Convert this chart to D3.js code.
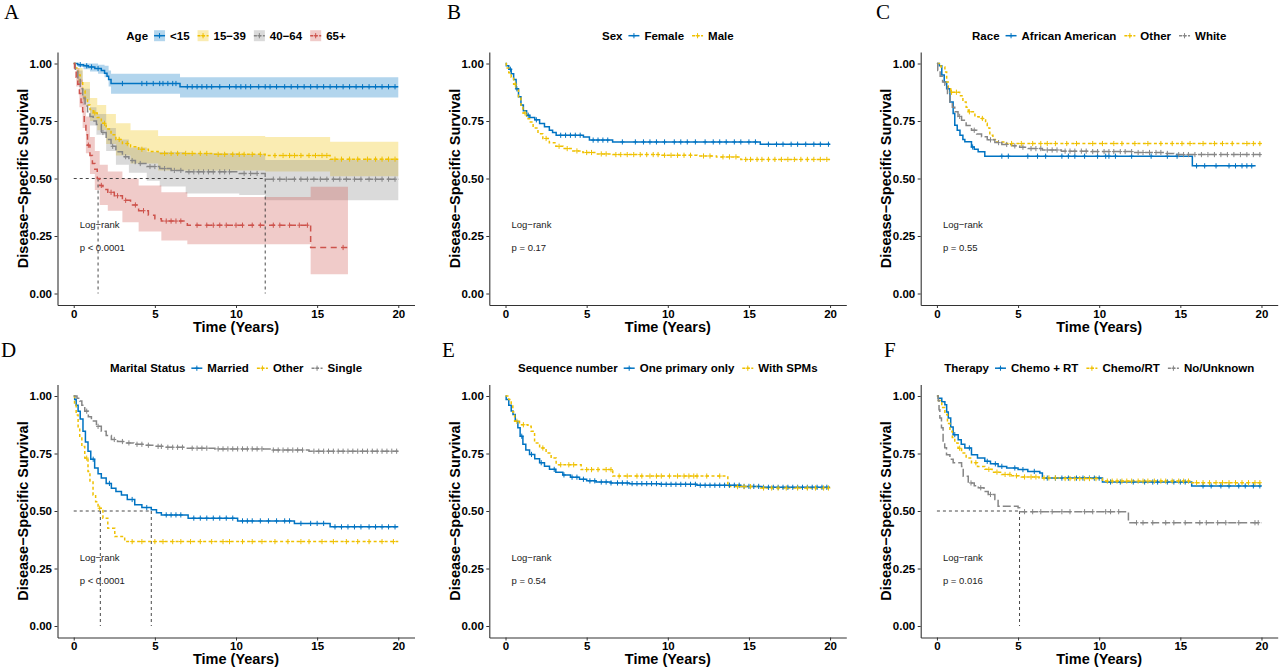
<!DOCTYPE html>
<html><head><meta charset="utf-8">
<script src="https://cdn.jsdelivr.net/npm/d3@7"></script>
<style>body{margin:0;background:#fff}svg{display:block}</style>
</head><body>
<svg id="c" width="1280" height="669"></svg>
<script>
// ---------------- DATA ----------------
const xTicks = [0, 5, 10, 15, 20];
const yTicks = [0, 0.25, 0.5, 0.75, 1];
const palette = ["#0073C2", "#EFC000", "#868686", "#CD534C"];

// Panel A: Age
const ageLabels = ["<15", "15−39", "40−64", "65+"];
const ageLt15Steps = [[0,1],[0.25,0.995],[0.6,0.99],[0.9,0.985],[1.3,0.978],[1.7,0.97],[1.9,0.958],[2.05,0.945],[2.15,0.93],[2.3,0.913],[6.55,0.899]];
const ageLt15Censor = [0.4,0.8,1.1,1.5,3.0,4.2,4.5,4.9,5.3,5.5,5.8,6.1,6.3,7.0,7.3,7.6,7.9,8.2,8.5,9.0,9.6,10.0,10.3,10.6,10.9,11.4,11.8,12.1,12.5,13.0,13.4,13.8,14.2,14.6,15.0,15.4,15.8,16.2,16.6,17.0,17.4,17.8,18.2,18.6,19.0,19.4,19.8];
const ageLt15Band = [[0,1,1],[0.25,0.985,1],[0.6,0.975,1],[1.0,0.965,1],[1.5,0.955,0.995],[1.9,0.94,0.99],[2.15,0.9,0.97],[2.3,0.868,0.955],[6.55,0.852,0.94]];
const age15Steps = [[0,1],[0.1,0.98],[0.25,0.95],[0.4,0.92],[0.55,0.88],[0.7,0.85],[0.85,0.82],[1.0,0.8],[1.2,0.785],[1.45,0.765],[1.7,0.74],[2.0,0.715],[2.3,0.69],[2.6,0.67],[3.0,0.652],[3.5,0.638],[4.0,0.627],[4.6,0.617],[5.2,0.609],[8.6,0.605],[11.8,0.6],[15.8,0.584]];
const age15Censor = [1.3,1.9,2.8,3.3,4.2,5.6,6.0,6.4,6.9,7.3,7.8,8.2,8.9,9.3,9.8,10.2,10.5,11.0,11.5,12.4,12.9,13.3,13.6,14.0,14.5,14.9,15.3,15.6,16.1,16.5,17.0,17.5,18.1,18.6,19.0,19.4,19.8];
const age15Band = [[0,1,1],[0.25,0.92,0.98],[0.55,0.84,0.92],[1.0,0.75,0.85],[1.45,0.71,0.82],[2.0,0.65,0.78],[2.6,0.6,0.74],[3.5,0.565,0.71],[5.2,0.535,0.685],[11.8,0.53,0.68],[15.8,0.51,0.66]];
const age40Steps = [[0,1],[0.1,0.97],[0.25,0.93],[0.4,0.89],[0.55,0.85],[0.7,0.815],[0.85,0.79],[1.0,0.77],[1.2,0.75],[1.4,0.735],[1.7,0.7],[2.0,0.67],[2.3,0.64],[2.6,0.616],[3.0,0.595],[3.4,0.578],[3.8,0.565],[4.5,0.552],[5.3,0.543],[6.0,0.535],[6.9,0.529],[10.2,0.522],[11.8,0.497]];
const age40Censor = [1.8,2.4,3.2,3.6,4.1,4.7,5.0,5.6,6.2,6.6,7.1,7.4,7.7,8.0,8.3,8.6,9.0,9.3,9.6,10.5,10.9,11.3,12.3,12.7,13.1,13.6,14.0,14.4,14.8,15.2,15.6,16.0,16.4,16.8,17.3,17.7,18.2,18.6,19.0,19.4,19.8];
const age40Band = [[0,1,1],[0.25,0.91,0.97],[0.55,0.82,0.89],[1.0,0.73,0.81],[1.4,0.69,0.78],[2.0,0.62,0.72],[2.6,0.56,0.67],[3.4,0.525,0.635],[4.5,0.49,0.615],[5.3,0.465,0.615],[6.9,0.435,0.61],[10.2,0.428,0.605],[11.8,0.405,0.58]];
const age65Steps = [[0,1],[0.05,0.97],[0.15,0.94],[0.25,0.91],[0.35,0.87],[0.45,0.83],[0.55,0.79],[0.65,0.74],[0.75,0.69],[0.85,0.645],[1.0,0.6],[1.15,0.565],[1.3,0.54],[1.45,0.5],[1.6,0.47],[1.8,0.452],[2.1,0.44],[2.5,0.425],[3.0,0.405],[3.5,0.385],[4.0,0.36],[4.6,0.34],[5.0,0.325],[5.4,0.315],[7.0,0.297],[14.6,0.2]];
const age65Censor = [0.9,1.7,2.3,2.7,3.2,3.8,4.3,5.7,6.0,6.3,6.6,7.6,8.2,8.6,9.0,9.4,10.0,10.4,11.0,11.5,12.3,12.7,13.3,13.9,14.4,16.6];
const age65Band = [[0,1,1],[0.15,0.9,0.98],[0.35,0.81,0.93],[0.55,0.72,0.86],[0.75,0.61,0.77],[1.0,0.52,0.68],[1.3,0.45,0.62],[1.6,0.385,0.56],[2.1,0.36,0.53],[3.0,0.31,0.5],[4.0,0.27,0.47],[5.4,0.23,0.44],[7.0,0.214,0.42],[14.6,0.084,0.464]];
const ageEnds = [20, 20, 20, 16.9];
const ageMedians = [1.5, 11.8];

// Panel B: Sex
const sexLabels = ["Female", "Male"];
const femaleSteps = [[0,1],[0.05,0.99],[0.2,0.975],[0.35,0.955],[0.5,0.93],[0.65,0.89],[0.8,0.855],[0.95,0.82],[1.1,0.795],[1.3,0.775],[1.5,0.765],[1.8,0.755],[2.1,0.739],[2.4,0.725],[2.7,0.71],[2.9,0.7],[3.12,0.688],[4.8,0.68],[5.17,0.667],[6.6,0.659],[15.7,0.649]];
const femaleCensor = [0.3,0.7,1.4,1.9,3.4,3.7,4.0,4.3,4.6,5.4,5.7,6.0,6.3,7.2,8.0,8.5,8.9,9.3,9.8,10.4,10.8,11.2,11.7,12.3,12.8,13.2,13.6,14.1,14.5,15.0,15.4,16.2,16.7,17.1,17.6,18.0,18.5,19.0,19.4,19.9];
const maleSteps = [[0,1],[0.05,0.98],[0.2,0.96],[0.35,0.94],[0.5,0.91],[0.66,0.885],[0.8,0.85],[0.95,0.81],[1.07,0.785],[1.3,0.76],[1.48,0.746],[1.7,0.72],[2.0,0.695],[2.3,0.674],[2.7,0.655],[3.1,0.64],[3.54,0.63],[4.1,0.62],[4.77,0.613],[5.6,0.607],[6.6,0.604],[9.5,0.601],[11.8,0.598],[13.0,0.594],[14.5,0.583]];
const maleCensor = [0.6,1.2,2.5,3.3,3.8,4.4,5.0,5.3,5.9,6.2,6.8,7.1,7.5,7.9,8.3,8.7,9.1,9.4,9.8,10.2,10.6,11.0,11.4,12.2,12.6,13.4,13.8,14.2,14.8,15.1,15.5,15.8,16.2,16.6,17.0,17.4,17.8,18.2,18.6,19.0,19.4,19.8];
const sexEnds = [20, 20];

// Panel C: Race
const raceLabels = ["African American", "Other", "White"];
const aaSteps = [[0,1],[0.15,0.99],[0.3,0.95],[0.45,0.92],[0.6,0.89],[0.8,0.833],[1.0,0.783],[1.1,0.732],[1.25,0.71],[1.42,0.688],[1.6,0.67],[1.72,0.66],[2.13,0.637],[2.3,0.627],[2.54,0.616],[2.95,0.597],[15.74,0.555]];
const aaCensor = [2.2,4.0,4.4,5.6,6.2,6.7,7.7,8.1,8.5,9.1,9.9,10.4,10.6,11.0,12.0,13.2,14.2,14.8,16.0,16.5,17.2,18.0,18.4,18.8,19.1,19.4];
const otherRaceSteps = [[0,1],[0.25,0.985],[0.49,0.963],[0.6,0.92],[0.7,0.89],[0.85,0.875],[1.4,0.86],[1.6,0.833],[1.8,0.81],[1.93,0.79],[2.34,0.768],[2.6,0.761],[3.0,0.74],[3.1,0.72],[3.26,0.688],[3.45,0.67],[3.6,0.659],[4.2,0.652]];
const otherRaceCensor = [0.9,1.2,2.0,2.8,4.6,5.2,5.9,6.4,6.8,7.3,8.0,8.6,9.6,10.2,10.9,11.4,12.2,13.0,13.8,14.5,15.1,15.6,16.4,17.1,17.6,18.2,19.1,19.5,19.9];
const whiteSteps = [[0,1],[0.05,0.97],[0.2,0.945],[0.35,0.92],[0.49,0.905],[0.65,0.87],[0.8,0.833],[0.95,0.81],[1.1,0.79],[1.3,0.77],[1.52,0.753],[1.8,0.73],[2.13,0.71],[2.45,0.694],[2.75,0.681],[3.1,0.668],[3.57,0.656],[4.0,0.648],[4.6,0.642],[5.1,0.636],[5.62,0.63],[6.5,0.624],[7.67,0.619],[9.5,0.617],[12.1,0.613],[14.07,0.609],[14.6,0.604]];
const whiteCensor = [1.4,2.3,3.3,3.8,4.3,4.8,5.3,5.8,6.1,6.4,6.8,7.1,7.4,7.9,8.2,8.5,8.9,9.2,9.6,9.9,10.3,10.6,10.9,11.3,11.6,12.0,12.4,12.7,13.1,13.5,13.8,14.2,14.9,15.2,15.5,15.9,16.3,16.7,17.1,17.5,17.9,18.3,18.7,19.1,19.5,19.9];
const raceEnds = [19.64, 20, 20];

// Panel D: Marital status
const maritalLabels = ["Married", "Other", "Single"];
const marriedSteps = [[0,1],[0.06,0.985],[0.15,0.96],[0.27,0.934],[0.4,0.9],[0.57,0.847],[0.72,0.8],[0.88,0.76],[1.05,0.725],[1.29,0.687],[1.5,0.662],[1.7,0.643],[2.0,0.62],[2.32,0.599],[2.6,0.585],[2.94,0.57],[3.3,0.55],[3.76,0.527],[4.2,0.515],[4.78,0.505],[5.1,0.492],[5.4,0.483],[7.05,0.469],[10.1,0.457],[13.6,0.446],[15.8,0.431]];
const marriedCensor = [1.2,2.2,3.6,4.5,5.7,6.0,6.3,6.6,7.4,7.8,8.2,8.6,9.0,9.4,9.8,10.4,10.7,11.0,11.5,12.0,12.5,13.0,13.3,14.0,14.6,15.0,15.4,16.1,16.5,16.9,17.3,17.7,18.2,18.6,19.0,19.4,19.8];
const otherMarSteps = [[0,1],[0.05,0.96],[0.15,0.917],[0.27,0.86],[0.37,0.817],[0.5,0.78],[0.68,0.73],[0.88,0.672],[1.0,0.63],[1.19,0.57],[1.35,0.54],[1.5,0.512],[1.8,0.469],[2.1,0.425],[2.53,0.389],[3.14,0.367]];
const otherMarCensor = [0.8,1.6,3.6,4.2,5.0,5.5,6.1,6.6,7.2,7.8,8.5,9.2,9.6,10.4,11.0,11.6,12.4,13.2,14.0,14.5,15.3,16.0,16.8,17.5,18.2,19.0,19.7];
const singleSteps = [[0,1],[0.2,0.99],[0.37,0.978],[0.5,0.96],[0.68,0.934],[0.9,0.91],[1.09,0.891],[1.4,0.868],[1.7,0.847],[2.0,0.828],[2.32,0.811],[2.7,0.802],[3.14,0.796],[3.7,0.79],[4.37,0.786],[5.0,0.781],[5.6,0.777],[7.0,0.773],[8.7,0.77],[12.1,0.765],[14.5,0.76]];
const singleCensor = [0.8,1.5,2.5,3.0,3.4,3.9,4.2,4.6,5.2,5.4,5.8,6.1,6.4,6.7,7.3,7.6,7.9,8.2,8.9,9.2,9.5,9.8,10.1,10.4,10.7,11.0,11.3,11.6,12.3,12.6,12.9,13.2,13.5,13.8,14.1,14.8,15.1,15.4,15.7,16.0,16.3,16.6,16.9,17.2,17.5,17.8,18.1,18.4,18.7,19.0,19.3,19.6,19.9];
const maritalEnds = [20, 20, 20];
const maritalMedians = [1.64, 4.78];

// Panel E: Sequence number
const seqLabels = ["One primary only", "With SPMs"];
const onePrimSteps = [[0,1],[0.04,0.985],[0.2,0.96],[0.35,0.935],[0.46,0.92],[0.6,0.89],[0.76,0.862],[0.9,0.825],[1.07,0.79],[1.25,0.765],[1.48,0.746],[1.8,0.727],[2.1,0.71],[2.4,0.695],[2.71,0.681],[3.1,0.668],[3.53,0.657],[4.0,0.647],[4.56,0.638],[5.0,0.631],[5.58,0.626],[6.5,0.622],[7.64,0.619],[9.5,0.616],[11.8,0.612],[14.5,0.607],[15.8,0.603]];
const onePrimCensor = [1.0,1.6,2.2,3.0,3.6,4.1,4.4,4.8,5.2,5.5,5.9,6.2,6.5,6.9,7.2,7.5,7.8,8.1,8.4,8.7,9.0,9.3,9.6,9.9,10.2,10.5,10.8,11.1,11.4,11.7,12.0,12.3,12.6,12.9,13.2,13.5,13.8,14.1,14.4,14.7,15.0,15.3,15.6,15.9,16.2,16.5,16.8,17.1,17.4,17.7,18.0,18.3,18.6,18.9,19.2,19.5,19.8];
const spmSteps = [[0,1],[0.2,0.985],[0.35,0.962],[0.45,0.93],[0.56,0.89],[0.86,0.875],[1.38,0.868],[1.58,0.847],[1.79,0.796],[2.1,0.774],[2.5,0.752],[2.81,0.73],[3.12,0.701],[4.66,0.68],[6.61,0.652],[13.7,0.606],[15.6,0.6]];
const spmCensor = [0.7,1.1,2.3,3.4,3.9,4.2,5.0,5.3,5.7,6.2,6.5,7.0,7.5,8.1,8.4,8.9,9.3,9.6,10.1,10.6,11.0,11.3,11.6,11.8,12.4,13.2,14.3,14.7,15.1,15.9,16.4,16.8,17.3,18.0,18.6,19.1,19.6,19.9];
const seqEnds = [20, 20];

// Panel F: Therapy
const therapyLabels = ["Chemo + RT", "Chemo/RT", "No/Unknown"];
const chemoRtSteps = [[0,1],[0.08,0.99],[0.3,0.975],[0.49,0.962],[0.6,0.93],[0.7,0.904],[0.85,0.865],[1.0,0.832],[1.31,0.81],[1.5,0.79],[1.72,0.774],[2.13,0.745],[2.5,0.73],[2.95,0.716],[3.3,0.705],[3.77,0.694],[4.3,0.687],[5.0,0.68],[5.6,0.672],[6.34,0.665],[6.5,0.643],[10.2,0.626],[15.7,0.609]];
const chemoRtCensor = [1.1,2.0,3.1,3.6,4.0,4.8,5.3,6.0,6.8,7.3,7.7,8.1,8.6,9.0,9.4,9.7,10.0,10.7,11.3,12.1,12.8,13.3,13.6,14.2,14.6,15.0,15.3,16.4,16.9,17.5,18.0,18.6,19.0,19.5,19.9];
const chemoOrRtSteps = [[0,1],[0.08,0.98],[0.3,0.95],[0.49,0.92],[0.65,0.88],[0.8,0.847],[0.95,0.82],[1.1,0.796],[1.3,0.773],[1.52,0.752],[1.8,0.73],[2.13,0.71],[2.5,0.694],[2.95,0.681],[3.4,0.669],[3.98,0.659],[4.6,0.653],[5.2,0.648],[6.3,0.644],[7.67,0.641],[10.2,0.63],[15.7,0.623]];
const chemoOrRtCensor = [1.4,2.4,3.2,3.7,4.2,4.5,4.9,5.4,5.8,6.1,6.6,6.9,7.3,7.9,8.2,8.5,8.8,9.1,9.4,9.8,10.5,10.8,11.1,11.4,11.7,12.0,12.4,12.7,13.0,13.4,13.8,14.1,14.5,14.9,15.2,15.5,16.0,16.4,16.8,17.2,17.6,18.0,18.4,18.8,19.2,19.6,19.9];
const noUnkSteps = [[0,1],[0.08,0.98],[0.13,0.94],[0.18,0.904],[0.28,0.862],[0.38,0.804],[0.48,0.775],[0.59,0.745],[0.8,0.725],[1.0,0.71],[1.52,0.694],[1.62,0.651],[1.93,0.622],[2.3,0.61],[2.55,0.601],[2.9,0.585],[3.16,0.572],[3.57,0.55],[3.77,0.521],[5.0,0.514],[5.1,0.497],[11.8,0.449]];
const noUnkCensor = [2.1,2.7,3.3,5.4,5.9,6.4,7.1,7.7,8.2,9.1,9.6,10.4,10.7,11.2,12.3,12.7,13.3,14.1,14.6,15.3,16.2,16.6,17.3,17.8,18.6,19.6,19.8];
const therapyEnds = [20, 20, 20];
const therapyMedians = [5.09];

const pValues = ["p < 0.0001", "p = 0.17", "p = 0.55", "p < 0.0001", "p = 0.54", "p = 0.016"];

// ---------------- DRAWING ----------------
const svg = d3.select("#c");
const SANS = "'Liberation Sans', Arial, Helvetica, sans-serif";
const SERIF = "'Liberation Serif', 'Times New Roman', serif";
const colLeft = [57.5, 489.3, 920.7];
const rowTop = [52, 384.5];
const PW = 357, PH = 253;
const dashes = {solid: null, dot: "3,2.5", long: "8,3", dash: "6,4.5"};

const panels = [
  {letter:"A", lx:4, col:0, row:0, title:"Age", labels:ageLabels, colors:palette,
   dash:[dashes.solid,dashes.dot,dashes.long,dashes.dash],
   steps:[ageLt15Steps,age15Steps,age40Steps,age65Steps],
   censor:[ageLt15Censor,age15Censor,age40Censor,age65Censor],
   bands:[ageLt15Band,age15Band,age40Band,age65Band], ends:ageEnds, medians:ageMedians},
  {letter:"B", lx:447, col:1, row:0, title:"Sex", labels:sexLabels, colors:palette.slice(0,2),
   dash:[dashes.solid,dashes.dot], steps:[femaleSteps,maleSteps], censor:[femaleCensor,maleCensor], ends:sexEnds},
  {letter:"C", lx:876, col:2, row:0, title:"Race", labels:raceLabels, colors:palette.slice(0,3),
   dash:[dashes.solid,dashes.dot,dashes.long], steps:[aaSteps,otherRaceSteps,whiteSteps],
   censor:[aaCensor,otherRaceCensor,whiteCensor], ends:raceEnds},
  {letter:"D", lx:1, col:0, row:1, title:"Marital Status", labels:maritalLabels, colors:palette.slice(0,3),
   dash:[dashes.solid,dashes.dot,dashes.long], steps:[marriedSteps,otherMarSteps,singleSteps],
   censor:[marriedCensor,otherMarCensor,singleCensor], ends:maritalEnds, medians:maritalMedians},
  {letter:"E", lx:442, col:1, row:1, title:"Sequence number", labels:seqLabels, colors:palette.slice(0,2),
   dash:[dashes.solid,dashes.dot], steps:[onePrimSteps,spmSteps], censor:[onePrimCensor,spmCensor], ends:seqEnds},
  {letter:"F", lx:884, col:2, row:1, title:"Therapy", labels:therapyLabels, colors:palette.slice(0,3),
   dash:[dashes.solid,dashes.dot,dashes.long], steps:[chemoRtSteps,chemoOrRtSteps,noUnkSteps],
   censor:[chemoRtCensor,chemoOrRtCensor,noUnkCensor], ends:therapyEnds, medians:therapyMedians}
];

function survAt(steps, t) {
  const i = d3.bisector(d => d[0]).right(steps, t) - 1;
  return steps[Math.max(0, i)][1];
}

function drawPanel(p, pi) {
  const left = colLeft[p.col], top = rowTop[p.row];
  const x = d3.scaleLinear().domain([-1, 21]).range([left, left + PW]);
  const y = d3.scaleLinear().domain([-0.05, 1.05]).range([top + PH, top]);
  const g = svg.append("g");

  // panel letter
  svg.append("text").attr("x", p.lx).attr("y", p.row === 0 ? 18.5 : 356.5)
    .attr("font-family", SERIF).attr("font-size", 21).text(p.letter);

  // bands
  if (p.bands) {
    p.bands.forEach((b, i) => {
      const pts = b.concat([[p.ends[i], b[b.length-1][1], b[b.length-1][2]]]);
      const area = d3.area().curve(d3.curveStepAfter)
        .x(d => x(d[0])).y0(d => y(d[1])).y1(d => y(d[2]));
      g.append("path").attr("d", area(pts)).attr("fill", p.colors[i]).attr("fill-opacity", 0.3);
    });
  }

  // median lines
  if (p.medians) {
    const mx = d3.max(p.medians);
    g.append("line").attr("x1", x(0)).attr("x2", x(mx)).attr("y1", y(0.5)).attr("y2", y(0.5))
      .attr("stroke", "#333").attr("stroke-width", 0.9).attr("stroke-dasharray", "3,3");
    p.medians.forEach(m => {
      g.append("line").attr("x1", x(m)).attr("x2", x(m)).attr("y1", y(0.5)).attr("y2", y(0))
        .attr("stroke", "#333").attr("stroke-width", 0.9).attr("stroke-dasharray", "3,3");
    });
  }

  // curves
  const line = d3.line().curve(d3.curveStepAfter).x(d => x(d[0])).y(d => y(d[1]));
  p.steps.forEach((s, i) => {
    const pts = s.concat([[p.ends[i], s[s.length-1][1]]]);
    g.append("path").attr("d", line(pts)).attr("fill", "none")
      .attr("stroke", p.colors[i]).attr("stroke-width", 1.5)
      .attr("stroke-dasharray", p.dash[i]);
  });
  // censor marks
  p.censor.forEach((c, i) => {
    c.forEach(t => {
      const cx = x(t), cy = y(survAt(p.steps[i], t));
      g.append("path").attr("d", `M${cx},${cy-2.6}V${cy+2.6}M${cx-2},${cy}H${cx+2}`)
        .attr("stroke", p.colors[i]).attr("stroke-width", 1);
    });
  });

  // axes
  const ax = g.append("g").attr("transform", `translate(0,${top + PH})`)
    .call(d3.axisBottom(x).tickValues(xTicks).tickSize(3).tickSizeOuter(0).tickPadding(1.5));
  const ay = g.append("g").attr("transform", `translate(${left},0)`)
    .call(d3.axisLeft(y).tickValues(yTicks).tickFormat(d3.format(".2f")).tickSize(3).tickSizeOuter(0).tickPadding(2.5));
  [ax, ay].forEach(a => {
    a.selectAll("text").attr("font-family", SANS).attr("font-size", 11.5).attr("font-weight", "bold").attr("fill", "#000");
    a.select(".domain").attr("stroke", "#333").attr("stroke-width", 1.1);
    a.selectAll(".tick line").attr("stroke", "#333");
  });

  // axis titles
  svg.append("text").attr("x", (left + left + PW) / 2).attr("y", top + 279.5)
    .attr("text-anchor", "middle").attr("font-family", SANS).attr("font-weight", "bold")
    .attr("font-size", 14.5).text("Time (Years)");
  svg.append("text").attr("transform", `translate(${left - 29.5},${top + PH / 2}) rotate(-90)`)
    .attr("text-anchor", "middle").attr("font-family", SANS).attr("font-weight", "bold")
    .attr("font-size", 14.5).text("Disease−Specific Survival");

  // log-rank text
  svg.append("text").attr("x", x(0) + 6).attr("y", y(0.3) + 3.5)
    .attr("font-family", SANS).attr("font-size", 9.5).attr("fill", "#222").text("Log−rank");
  svg.append("text").attr("x", x(0) + 6).attr("y", y(0.2) + 3.5)
    .attr("font-family", SANS).attr("font-size", 9.5).attr("fill", "#222").text(pValues[pi]);

  // legend
  const lg = svg.append("g");
  const ly = top - 16.3;
  let cx = 0;
  const tt = lg.append("text").attr("x", cx).attr("y", ly + 4).attr("font-family", SANS)
    .attr("font-weight", "bold").attr("font-size", 11.5).text(p.title);
  cx += tt.node().getComputedTextLength() + 6;
  p.labels.forEach((lab, i) => {
    const kw = 11;
    if (p.bands) {
      lg.append("rect").attr("x", cx).attr("y", ly - 5.5).attr("width", kw).attr("height", 11)
        .attr("fill", p.colors[i]).attr("fill-opacity", 0.3);
    }
    lg.append("line").attr("x1", cx).attr("x2", cx + kw).attr("y1", ly).attr("y2", ly)
      .attr("stroke", p.colors[i]).attr("stroke-width", 1.5).attr("stroke-dasharray", p.dash[i] ? "3,1.5" : null);
    lg.append("path").attr("d", `M${cx + kw/2},${ly-2.6}V${ly+2.6}M${cx + kw/2 - 2},${ly}H${cx + kw/2 + 2}`)
      .attr("stroke", p.colors[i]).attr("stroke-width", 1);
    cx += kw + 5;
    const t = lg.append("text").attr("x", cx).attr("y", ly + 4).attr("font-family", SANS)
      .attr("font-weight", "bold").attr("font-size", 11.5).text(lab);
    cx += t.node().getComputedTextLength() + 8;
  });
  const totalW = cx - 8;
  lg.attr("transform", `translate(${(left + PW / 2) - totalW / 2},0)`);
}

panels.forEach(drawPanel);
</script>
</body></html>
